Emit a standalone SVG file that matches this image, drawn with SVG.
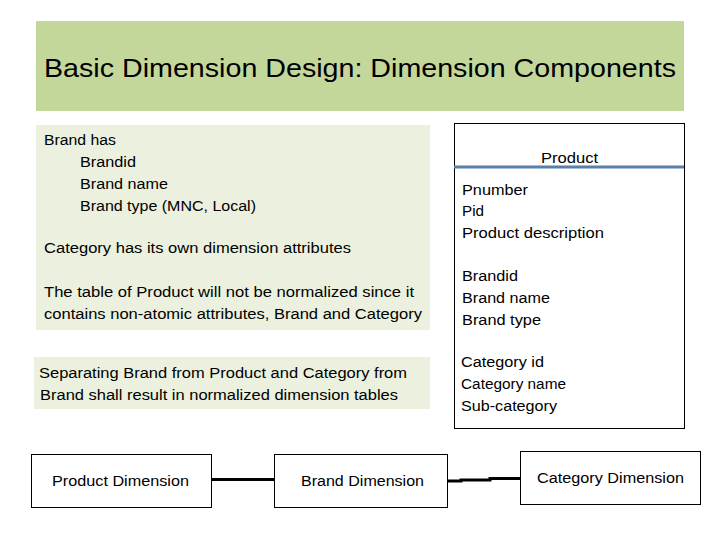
<svg xmlns="http://www.w3.org/2000/svg" width="720" height="540" viewBox="0 0 720 540">
<style>
text{font-family:"Liberation Sans","Open Sans",Arial,sans-serif;fill:#000;}
.t{font-size:15.5px;}
.box{fill:#fff;stroke:#000;stroke-width:1;}
.conn{stroke:#000;stroke-width:3;fill:none;}
</style>
<rect width="720" height="540" fill="#fff"/>
<g id="title">
<rect x="36" y="21" width="648" height="90" fill="#c4d79b"/>
<text x="44" y="77" font-size="26" textLength="632" lengthAdjust="spacingAndGlyphs">Basic Dimension Design: Dimension Components</text>
</g>
<g id="notes">
<rect x="36" y="125" width="394" height="205" fill="#ebf1de"/>
<text class="t" x="44" y="145" textLength="72" lengthAdjust="spacingAndGlyphs">Brand has</text>
<text class="t" x="80" y="167" textLength="56" lengthAdjust="spacingAndGlyphs">Brandid</text>
<text class="t" x="80" y="189" textLength="88" lengthAdjust="spacingAndGlyphs">Brand name</text>
<text class="t" x="80" y="211" textLength="176" lengthAdjust="spacingAndGlyphs">Brand type (MNC, Local)</text>
<text class="t" x="44" y="253" textLength="307" lengthAdjust="spacingAndGlyphs">Category has its own dimension attributes</text>
<text class="t" x="44" y="297" textLength="370" lengthAdjust="spacingAndGlyphs">The table of Product will not be normalized since it</text>
<text class="t" x="44" y="319" textLength="378" lengthAdjust="spacingAndGlyphs">contains non-atomic attributes, Brand and Category</text>
</g>
<g id="separating">
<rect x="34" y="357" width="396" height="52" fill="#ebf1de"/>
<text class="t" x="39" y="378" textLength="368" lengthAdjust="spacingAndGlyphs">Separating Brand from Product and Category from</text>
<text class="t" x="40" y="400" textLength="358" lengthAdjust="spacingAndGlyphs">Brand shall result in normalized dimension tables</text>
</g>
<g id="product">
<rect class="box" x="454.5" y="123.5" width="230" height="305"/>
<text class="t" x="541" y="163" textLength="57" lengthAdjust="spacingAndGlyphs">Product</text>
<line x1="454" y1="167" x2="684" y2="167" stroke="#5a7fa8" stroke-width="3"/>
<text class="t" x="462" y="195" textLength="66" lengthAdjust="spacingAndGlyphs">Pnumber</text>
<text class="t" x="462" y="216" textLength="22" lengthAdjust="spacingAndGlyphs">Pid</text>
<text class="t" x="462" y="238" textLength="142" lengthAdjust="spacingAndGlyphs">Product description</text>
<text class="t" x="462" y="281" textLength="56" lengthAdjust="spacingAndGlyphs">Brandid</text>
<text class="t" x="462" y="303" textLength="88" lengthAdjust="spacingAndGlyphs">Brand name</text>
<text class="t" x="462" y="325" textLength="79" lengthAdjust="spacingAndGlyphs">Brand type</text>
<text class="t" x="461" y="367" textLength="83" lengthAdjust="spacingAndGlyphs">Category id</text>
<text class="t" x="461" y="389" textLength="105" lengthAdjust="spacingAndGlyphs">Category name</text>
<text class="t" x="461" y="411" textLength="96" lengthAdjust="spacingAndGlyphs">Sub-category</text>
</g>
<g id="connectors">
<line class="conn" x1="211" y1="479.5" x2="274" y2="479.5"/>
<path class="conn" d="M447 481 H461 V480 H490 V478.5 H520"/>
</g>
<g id="product-dimension">
<rect class="box" x="31.5" y="454.5" width="180" height="53"/>
<text class="t" x="52" y="486" textLength="137" lengthAdjust="spacingAndGlyphs">Product Dimension</text>
</g>
<g id="brand-dimension">
<rect class="box" x="274.5" y="454.5" width="173" height="53"/>
<text class="t" x="301" y="486" textLength="123" lengthAdjust="spacingAndGlyphs">Brand Dimension</text>
</g>
<g id="category-dimension">
<rect class="box" x="520.5" y="451.5" width="180" height="53"/>
<text class="t" x="537" y="483" textLength="147" lengthAdjust="spacingAndGlyphs">Category Dimension</text>
</g>
</svg>
